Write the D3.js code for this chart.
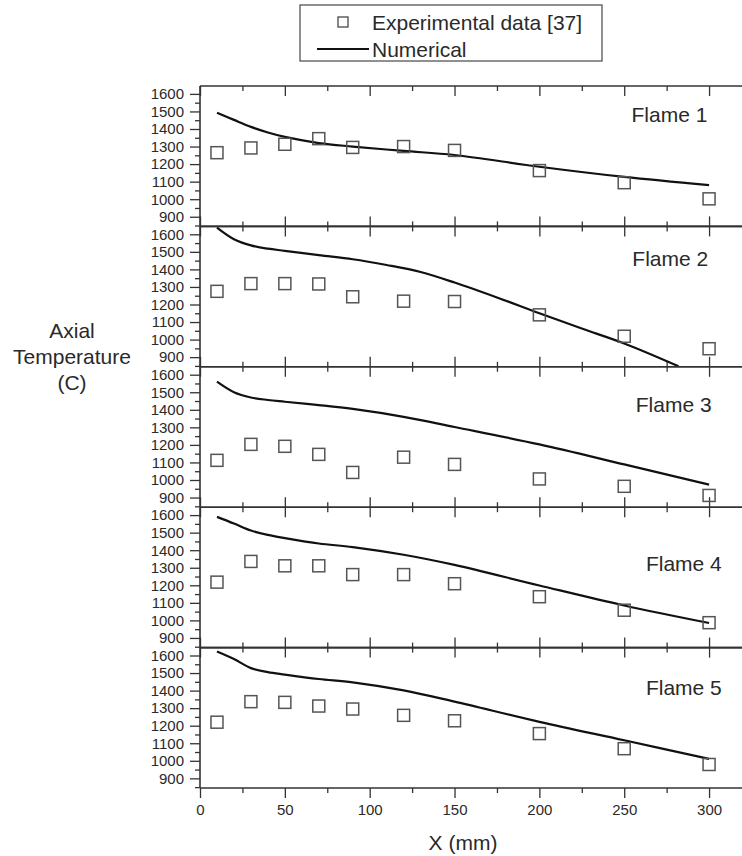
<!DOCTYPE html>
<html>
<head>
<meta charset="utf-8">
<script src="https://cdn.jsdelivr.net/npm/d3@7"></script>
<style>
body { margin: 0; background: #fff; }
svg { display: block; }
text { font-family: "Liberation Sans", Arial, Helvetica, sans-serif; fill: #2a2a2a; }
</style>
</head>
<body>
<svg width="742" height="856"></svg>
<script>
// data
var flames = ["Flame 1", "Flame 2", "Flame 3", "Flame 4", "Flame 5"]
var expX = [10, 30, 50, 70, 90, 120, 150, 200, 250, 300]
var exp1 = [1265, 1292, 1313, 1345, 1295, 1300, 1278, 1163, 1094, 1002]
var exp2 = [1275, 1319, 1319, 1317, 1244, 1219, 1217, 1141, 1019, 948]
var exp3 = [1112, 1203, 1192, 1146, 1043, 1130, 1089, 1006, 964, 912]
var exp4 = [1218, 1336, 1311, 1311, 1261, 1261, 1209, 1135, 1058, 987]
var exp5 = [1220, 1337, 1333, 1312, 1295, 1259, 1228, 1155, 1069, 979]

var numX = [10, 20, 30, 40, 50, 70, 90, 120, 150, 200, 250, 300]
var num1 = [1493, 1452, 1412, 1380, 1355, 1320, 1300, 1275, 1252, 1185, 1127, 1080]
var num3 = [1560, 1500, 1470, 1456, 1446, 1427, 1405, 1360, 1302, 1203, 1089, 974]
var num4 = [1590, 1552, 1512, 1487, 1469, 1438, 1418, 1374, 1316, 1199, 1085, 985]
var num5 = [1623, 1580, 1528, 1505, 1491, 1466, 1447, 1401, 1337, 1222, 1117, 1011]
var numX2 = [10, 20, 30, 40, 50, 70, 90, 110, 130, 150, 175, 200, 225, 250, 282]
var num2 = [1638, 1572, 1537, 1518, 1506, 1481, 1458, 1425, 1385, 1325, 1240, 1150, 1063, 978, 848]

var xMajor = [0, 50, 100, 150, 200, 250, 300]
var xMinor = [25, 75, 125, 175, 225, 275]
var yMajor = [900, 1000, 1100, 1200, 1300, 1400, 1500, 1600]
var yMinor = [850, 950, 1050, 1150, 1250, 1350, 1450, 1550]

var expAll = [exp1, exp2, exp3, exp4, exp5]
var numAll = [[numX, num1], [numX2, num2], [numX, num3], [numX, num4], [numX, num5]]

// layout
var left = 200, right = 743, top0 = 86, bottom0 = 788
var panelH = (bottom0 - top0) / 5
var labelPos = [[299, 1480], [299.5, 1462], [301.5, 1430], [307.5, 1324], [307.5, 1415]]
var axisColor = "#333"

var svg = d3.select("svg")
var x = d3.scaleLinear().domain([0, 320]).range([left, right])

var line = d3.line().curve(d3.curveCatmullRom.alpha(0.5))

function styleAxis(g) {
    g.select(".domain").remove()
    g.selectAll("line").attr("stroke", axisColor).attr("stroke-width", 1.3)
    g.selectAll("text").style("font-size", "15px").attr("fill", "#2a2a2a")
}

flames.forEach(function (name, i) {
    var pTop = top0 + i * panelH
    var pBot = pTop + panelH
    var y = d3.scaleLinear().domain([845, 1645]).range([pBot, pTop])
    var g = svg.append("g")

    g.append("clipPath").attr("id", "clip" + i)
        .append("rect").attr("x", left).attr("y", pTop).attr("width", right - left).attr("height", panelH)

    // y axis
    g.append("g").attr("transform", "translate(" + left + ",0)")
        .call(d3.axisLeft(y).tickValues(yMajor).tickSize(10).tickPadding(6).tickFormat(d3.format("d")))
        .call(styleAxis)
    g.append("g").attr("transform", "translate(" + left + ",0)")
        .call(d3.axisLeft(y).tickValues(yMinor).tickSize(5).tickFormat(""))
        .call(styleAxis)

    // top ticks point into the panel
    g.append("g").attr("transform", "translate(0," + pTop + ")")
        .call(d3.axisTop(x).tickValues(xMajor).tickSize(-10).tickFormat(""))
        .call(styleAxis)
    g.append("g").attr("transform", "translate(0," + pTop + ")")
        .call(d3.axisTop(x).tickValues(xMinor).tickSize(-5).tickFormat(""))
        .call(styleAxis)

    if (i < 4) {
        g.append("g").attr("transform", "translate(0," + pBot + ")")
            .call(d3.axisBottom(x).tickValues(xMajor).tickSize(-10).tickFormat(""))
            .call(styleAxis)
        g.append("g").attr("transform", "translate(0," + pBot + ")")
            .call(d3.axisBottom(x).tickValues(xMinor).tickSize(-5).tickFormat(""))
            .call(styleAxis)
    } else {
        g.append("g").attr("transform", "translate(0," + pBot + ")")
            .call(d3.axisBottom(x).tickValues(xMajor).tickSize(10).tickPadding(6).tickFormat(d3.format("d")))
            .call(styleAxis)
        g.append("g").attr("transform", "translate(0," + pBot + ")")
            .call(d3.axisBottom(x).tickValues(xMinor).tickSize(5).tickFormat(""))
            .call(styleAxis)
    }

    // frame lines
    g.append("line").attr("x1", left).attr("x2", right).attr("y1", pTop).attr("y2", pTop)
        .attr("stroke", axisColor).attr("stroke-width", 1.6)
    g.append("line").attr("x1", left).attr("x2", right).attr("y1", pBot).attr("y2", pBot)
        .attr("stroke", axisColor).attr("stroke-width", 1.6)
    g.append("line").attr("x1", left).attr("x2", left).attr("y1", pTop).attr("y2", pBot)
        .attr("stroke", axisColor).attr("stroke-width", 1.6)

    // numerical line
    var xs = numAll[i][0], vs = numAll[i][1]
    g.append("path")
        .attr("clip-path", "url(#clip" + i + ")")
        .attr("d", line(xs.map(function (d, k) { return [x(d), y(vs[k])] })))
        .attr("fill", "none").attr("stroke", "#111").attr("stroke-width", 2.2)

    // experimental squares
    g.selectAll("rect.exp").data(expAll[i]).enter().append("rect")
        .attr("class", "exp")
        .attr("x", function (d, k) { return x(expX[k]) - 6 })
        .attr("y", function (d) { return y(d) - 6 })
        .attr("width", 12).attr("height", 12)
        .attr("fill", "none").attr("stroke", "#555").attr("stroke-width", 1.5)

    g.append("text")
        .attr("x", x(labelPos[i][0])).attr("y", y(labelPos[i][1]))
        .attr("text-anchor", "end").attr("dominant-baseline", "central")
        .style("font-size", "21px")
        .text(name)
})

// axis titles
var yTitle = svg.append("text").attr("text-anchor", "middle").style("font-size", "21px")
yTitle.append("tspan").attr("x", 72).attr("y", 338).text("Axial")
yTitle.append("tspan").attr("x", 72).attr("y", 364).text("Temperature")
yTitle.append("tspan").attr("x", 72).attr("y", 390).text("(C)")

svg.append("text").attr("x", 463).attr("y", 850)
    .attr("text-anchor", "middle").style("font-size", "21px").text("X (mm)")

// legend
var lg = svg.append("g")
lg.append("rect").attr("x", 300).attr("y", 5).attr("width", 302).attr("height", 56)
    .attr("fill", "#fff").attr("stroke", "#555").attr("stroke-width", 1.3)
lg.append("rect").attr("x", 338).attr("y", 17).attr("width", 10).attr("height", 10)
    .attr("fill", "none").attr("stroke", "#555").attr("stroke-width", 1.4)
lg.append("line").attr("x1", 317).attr("x2", 369).attr("y1", 49).attr("y2", 49)
    .attr("stroke", "#111").attr("stroke-width", 2.2)
lg.append("text").attr("x", 372).attr("y", 30).style("font-size", "21px").text("Experimental data [37]")
lg.append("text").attr("x", 372).attr("y", 57).style("font-size", "21px").text("Numerical")
</script>
</body>
</html>
